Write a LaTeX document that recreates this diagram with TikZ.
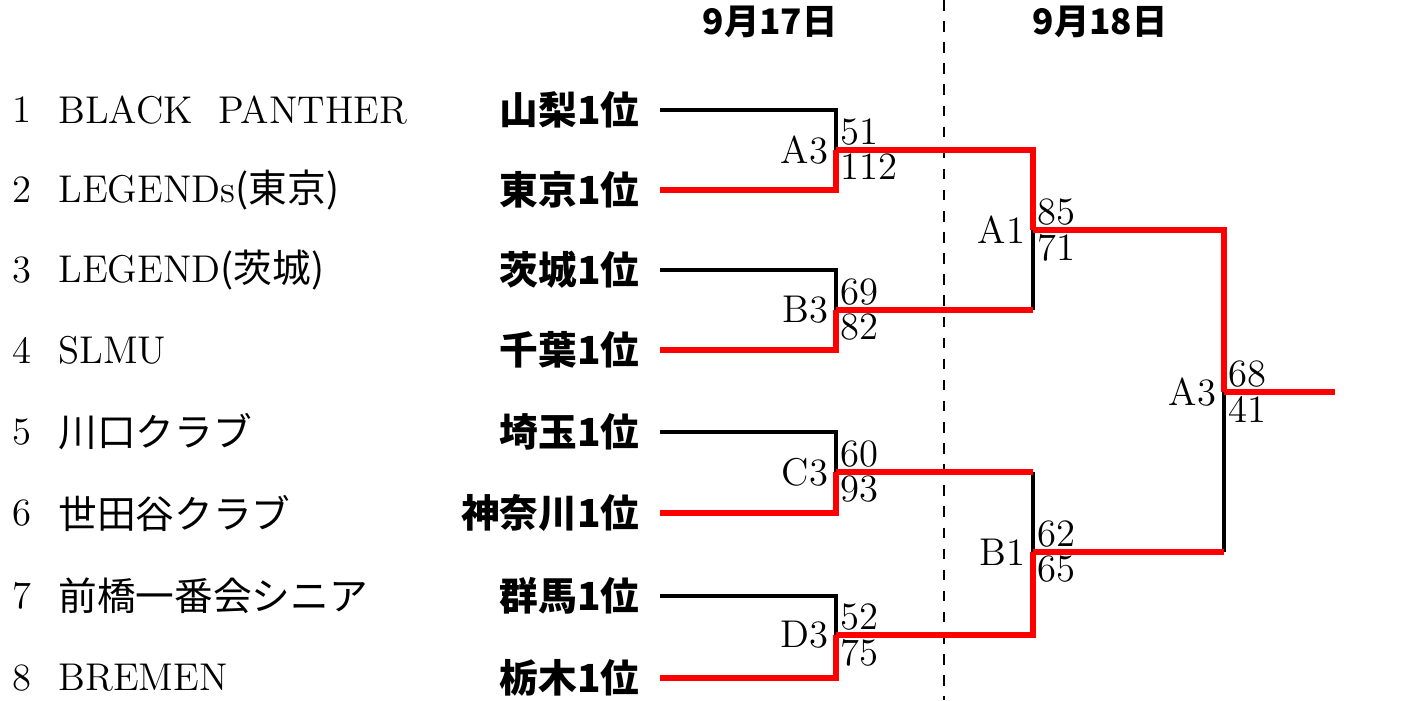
\documentclass[tikz,border=0pt]{standalone}
\usepackage{fontspec}
\newfontfamily\cjk{Noto Sans CJK JP}
\usetikzlibrary{positioning}
\tikzset{
  lose/.style={black,line width=0.9pt},
  win/.style={red,line width=1.6pt},
  team/.style={anchor=west,font=\fontsize{11}{13}\selectfont},
  pref/.style={anchor=east,font=\fontsize{11}{13}\selectfont\cjk\bfseries},
  score/.style={anchor=west,inner sep=1pt,font=\fontsize{11}{13}\selectfont},
  match/.style={anchor=east,inner sep=2pt,font=\fontsize{11}{13}\selectfont}
}
\begin{document}
\begin{tikzpicture}[x=0.01cm,y=-0.01cm]
  \useasboundingbox (0,0) rectangle (1404,700);

  % dates and day split
  \node[font=\cjk\bfseries\fontsize{10}{12}\selectfont] (d1) at (770,22) {9月17日};
  \node[font=\cjk\bfseries\fontsize{10}{12}\selectfont] (d2) at (1100,22) {9月18日};
  \draw[dashed,line width=0.6pt] (944,0) -- (944,700);

  % teams
  \foreach \y/\n/\t/\p in {110/1/BLACK\ \ PANTHER/山梨1位,
      190/2/LEGENDs{\cjk(東京)}/東京1位,
      270/3/LEGEND{\cjk(茨城)}/茨城1位,
      350/4/SLMU/千葉1位,
      432/5/{\cjk 川口クラブ}/埼玉1位,
      513/6/{\cjk 世田谷クラブ}/神奈川1位,
      596/7/{\cjk 前橋一番会シニア}/群馬1位,
      678/8/BREMEN/栃木1位} {
    \node[team] (n\n) at (0,\y) {\n};
    \node[team] (t\n) at (46,\y) {\t};
    \node[pref] (p\n) at (652,\y) {\p};
    \coordinate (s\n) at (660,\y);
  }

  % first round
  \foreach \a/\b/\m/\h/\u/\v in {1/2/A3/150/51/112, 3/4/B3/310/69/82,
      5/6/C3/472/60/93, 7/8/D3/635/52/75} {
    \coordinate (j\m) at (836,\h);
    \draw[lose] (s\a) -| (j\m);
    \draw[win] (s\b) -| (j\m);
    \node[match] (m\m) at (836,\h) {\m};
    \node[score,above right=0pt of j\m] (u\m) {\u};
    \node[score,below right=0pt of j\m] (v\m) {\v};
  }

  % second round
  \coordinate (jA1) at (1033,230);
  \coordinate (jB1) at (1033,552);
  \draw[lose] (jB3 -| jA1) -- (jA1);
  \draw[lose] (jC3 -| jB1) -- (jB1);
  \draw[win] (jA3) -| (jA1);
  \draw[win] (jB3) -- (jB3 -| jA1);
  \draw[win] (jC3) -- (jC3 -| jB1);
  \draw[win] (jD3) -| (jB1);
  \node[match] (mA1) at (jA1) {A1};
  \node[score,above right=0pt of jA1] (uA1) {85};
  \node[score,below right=0pt of jA1] (vA1) {71};
  \node[match] (mB1) at (jB1) {B1};
  \node[score,above right=0pt of jB1] (uB1) {62};
  \node[score,below right=0pt of jB1] (vB1) {65};

  % final
  \coordinate (jF) at (1224,392);
  \coordinate (out) at (1335,392);
  \draw[lose] (jB1 -| jF) -- (jF);
  \draw[win] (jA1) -| (jF);
  \draw[win] (jB1) -- (jB1 -| jF);
  \draw[win] (jF) -- (out);
  \node[match] (mF) at (jF) {A3};
  \node[score,above right=0pt of jF] (uF) {68};
  \node[score,below right=0pt of jF] (vF) {41};
\end{tikzpicture}
\end{document}
